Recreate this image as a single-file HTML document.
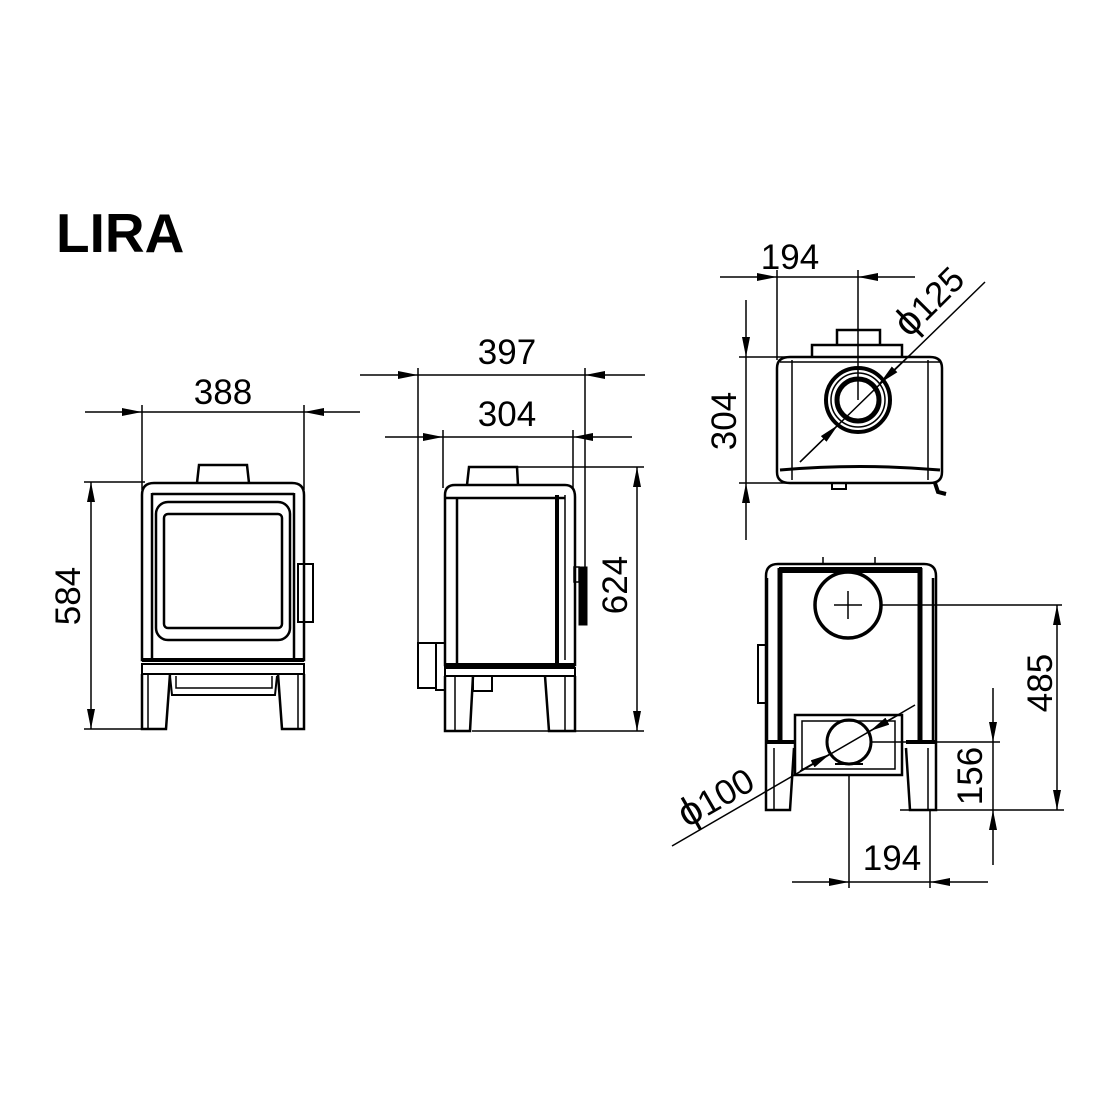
<!DOCTYPE html>
<html><head><meta charset="utf-8"><style>
html,body{margin:0;padding:0;background:#fff;}
svg{display:block}
text{font-family:"Liberation Sans","DejaVu Sans",sans-serif;fill:#000}
</style></head><body>
<svg width="1100" height="1100" viewBox="0 0 1100 1100" xmlns="http://www.w3.org/2000/svg">
<defs>
<marker id="a" viewBox="0 0 20 8" refX="20" refY="4" markerWidth="20" markerHeight="8" markerUnits="userSpaceOnUse" orient="auto"><path d="M0,0 L20,4 L0,8z" fill="#000"/></marker>
</defs>
<text x="56" y="252" font-size="55" font-weight="bold">LIRA</text>

<g stroke="#000" stroke-width="1.5" fill="none">
<line x1="85" y1="412" x2="142" y2="412" marker-end="url(#a)"/>
<line x1="360" y1="412" x2="304" y2="412" marker-end="url(#a)"/>
<line x1="142" y1="412" x2="304" y2="412"/>
<line x1="142" y1="405" x2="142" y2="490"/>
<line x1="304" y1="405" x2="304" y2="490"/>
<line x1="91" y1="605" x2="91" y2="482" marker-end="url(#a)"/>
<line x1="91" y1="605" x2="91" y2="729" marker-end="url(#a)"/>
<line x1="84" y1="482" x2="145" y2="482"/>
<line x1="84" y1="729" x2="145" y2="729"/>
</g>
<text x="223" y="404" font-size="35" text-anchor="middle">388</text>
<text transform="translate(80,596) rotate(-90)" font-size="35" text-anchor="middle">584</text>

<g stroke="#000" stroke-width="2.5" fill="none">
<path d="M197,483 L199,465 L247,465 L249,483"/>
<path d="M142,660 L142,495 Q142,483 154,483 L292,483 Q304,483 304,495 L304,660 Z"/>
<line x1="152" y1="493" x2="152" y2="660"/>
<line x1="294" y1="493" x2="294" y2="660"/>
<line x1="152" y1="494" x2="294" y2="494"/>
<rect x="156" y="502" width="134" height="138" rx="12"/>
<rect x="164" y="514" width="118" height="114" rx="4"/>
<rect x="298" y="564" width="15" height="58" stroke-width="2"/>
<line x1="142" y1="660" x2="304" y2="660" stroke-width="4"/>
<rect x="142" y="664" width="162" height="10" stroke-width="2"/>
<path d="M142,674 L142,729 L166,729 L170,674"/>
<path d="M304,674 L304,729 L282,729 L278,674"/>
<line x1="148" y1="674" x2="148" y2="729" stroke-width="1.5"/>
<line x1="298" y1="674" x2="298" y2="729" stroke-width="1.5"/>
<path d="M170,676 L172,695 L275,695 L277,676" stroke-width="2"/>
<path d="M176,676 L176,688 L272,688 L272,676" stroke-width="1.5"/>
</g>

<g stroke="#000" stroke-width="1.5" fill="none">
<line x1="360" y1="375" x2="418" y2="375" marker-end="url(#a)"/>
<line x1="645" y1="375" x2="585" y2="375" marker-end="url(#a)"/>
<line x1="418" y1="375" x2="585" y2="375"/>
<line x1="385" y1="437" x2="443" y2="437" marker-end="url(#a)"/>
<line x1="632" y1="437" x2="573" y2="437" marker-end="url(#a)"/>
<line x1="443" y1="437" x2="573" y2="437"/>
<line x1="418" y1="368" x2="418" y2="642"/>
<line x1="585" y1="368" x2="585" y2="568"/>
<line x1="443" y1="430" x2="443" y2="488"/>
<line x1="573" y1="430" x2="573" y2="488"/>
<line x1="637" y1="598" x2="637" y2="467" marker-end="url(#a)"/>
<line x1="637" y1="598" x2="637" y2="731" marker-end="url(#a)"/>
<line x1="518" y1="467" x2="644" y2="467"/>
<line x1="472" y1="731" x2="644" y2="731"/>
</g>
<text x="507" y="364" font-size="35" text-anchor="middle">397</text>
<text x="507" y="426" font-size="35" text-anchor="middle">304</text>
<text transform="translate(627,585) rotate(-90)" font-size="35" text-anchor="middle">624</text>

<g stroke="#000" stroke-width="2.5" fill="none">
<path d="M467,485 L469,467 L517,467 L518,485"/>
<path d="M445,665 L445,495 Q445,485 455,485 L565,485 Q575,485 575,497 L575,665 Z"/>
<line x1="457" y1="498" x2="457" y2="665"/>
<line x1="445" y1="498" x2="565" y2="498"/>
<line x1="557" y1="495" x2="557" y2="665" stroke-width="4"/>
<line x1="565" y1="495" x2="565" y2="660" stroke-width="1.5"/>
<rect x="418" y="643" width="18" height="45" stroke-width="2"/>
<rect x="436" y="643" width="9" height="47" stroke-width="2"/>
<rect x="574" y="567" width="5" height="15" stroke-width="1.5"/>
<rect x="579" y="567" width="8" height="58" fill="#000" stroke-width="1"/>
<line x1="445" y1="665" x2="575" y2="665" stroke-width="4"/>
<rect x="445" y="668" width="130" height="8" stroke-width="2"/>
<path d="M445,676 L445,731 L470,731 L473,676"/>
<path d="M575,676 L575,731 L549,731 L545,676"/>
<line x1="455" y1="676" x2="455" y2="731" stroke-width="1.5"/>
<line x1="565" y1="676" x2="565" y2="731" stroke-width="1.5"/>
<rect x="473" y="676" width="19" height="15" stroke-width="2"/>
</g>

<g stroke="#000" stroke-width="1.5" fill="none">
<line x1="720" y1="277" x2="777" y2="277" marker-end="url(#a)"/>
<line x1="915" y1="277" x2="858" y2="277" marker-end="url(#a)"/>
<line x1="777" y1="277" x2="858" y2="277"/>
<line x1="777" y1="270" x2="777" y2="360"/>
<line x1="858" y1="270" x2="858" y2="400"/>
<line x1="746" y1="300" x2="746" y2="357" marker-end="url(#a)"/>
<line x1="746" y1="540" x2="746" y2="483" marker-end="url(#a)"/>
<line x1="746" y1="357" x2="746" y2="483"/>
<line x1="739" y1="357" x2="790" y2="357"/>
<line x1="739" y1="483" x2="790" y2="483"/>
<line x1="800" y1="462" x2="985" y2="282"/>
<line x1="800" y1="462" x2="838" y2="425" marker-end="url(#a)"/>
<line x1="910" y1="355" x2="880" y2="383" marker-end="url(#a)"/>
</g>
<text x="790" y="269" font-size="35" text-anchor="middle">194</text>
<text transform="translate(736,421) rotate(-90)" font-size="35" text-anchor="middle">304</text>
<text transform="translate(938,310) rotate(-45)" font-size="35" text-anchor="middle"><tspan font-size="40">ϕ</tspan>125</text>

<g stroke="#000" stroke-width="2.5" fill="none">
<path d="M812,357 L812,345 L902,345 L902,357"/>
<path d="M837,345 L837,330 L880,330 L880,345"/>
<path d="M777,472 L777,368 Q777,357 790,357 L930,357 Q942,357 942,368 L942,472 Q942,483 930,483 L790,483 Q777,483 777,472 Z"/>
<line x1="792" y1="360" x2="792" y2="480" stroke-width="1.5"/>
<line x1="928" y1="360" x2="928" y2="480" stroke-width="1.5"/>
<line x1="780" y1="362" x2="940" y2="362" stroke-width="1.5"/>
<path d="M780,470 Q860,463 940,470" stroke-width="3"/>
<circle cx="858" cy="400" r="32" stroke-width="4"/>
<circle cx="858" cy="400" r="27" stroke-width="1.5"/>
<circle cx="858" cy="400" r="21" stroke-width="5"/>
<rect x="832" y="483" width="14" height="6" stroke-width="2"/>
<path d="M935,483 L938,492 L946,494" stroke-width="4"/>
</g>

<g stroke="#000" stroke-width="1.5" fill="none">
<line x1="880" y1="605" x2="1062" y2="605"/>
<line x1="1057" y1="700" x2="1057" y2="605" marker-end="url(#a)"/>
<line x1="1057" y1="700" x2="1057" y2="810" marker-end="url(#a)"/>
<line x1="900" y1="810" x2="1064" y2="810"/>
<line x1="870" y1="742" x2="1000" y2="742"/>
<line x1="993" y1="688" x2="993" y2="742" marker-end="url(#a)"/>
<line x1="993" y1="865" x2="993" y2="810" marker-end="url(#a)"/>
<line x1="993" y1="742" x2="993" y2="810"/>
<line x1="849" y1="775" x2="849" y2="888"/>
<line x1="930" y1="810" x2="930" y2="888"/>
<line x1="792" y1="882" x2="849" y2="882" marker-end="url(#a)"/>
<line x1="988" y1="882" x2="930" y2="882" marker-end="url(#a)"/>
<line x1="849" y1="882" x2="930" y2="882"/>
<line x1="672" y1="846" x2="915" y2="705"/>
<line x1="800" y1="771" x2="830" y2="754" marker-end="url(#a)"/>
<line x1="900" y1="714" x2="870" y2="731" marker-end="url(#a)"/>
<line x1="834" y1="605" x2="862" y2="605"/>
<line x1="848" y1="591" x2="848" y2="619"/>
</g>
<text transform="translate(1052,683) rotate(-90)" font-size="35" text-anchor="middle">485</text>
<text transform="translate(982,776) rotate(-90)" font-size="35" text-anchor="middle">156</text>
<text x="892" y="870" font-size="35" text-anchor="middle">194</text>
<text transform="translate(722,808) rotate(-30)" font-size="35" text-anchor="middle"><tspan font-size="40">ϕ</tspan>100</text>

<g stroke="#000" stroke-width="2.5" fill="none">
<line x1="823" y1="557" x2="823" y2="563" stroke-width="1.5"/>
<line x1="875" y1="557" x2="875" y2="563" stroke-width="1.5"/>
<path d="M766,742 L766,576 Q766,564 778,564 L924,564 Q936,564 936,576 L936,742"/>
<line x1="779" y1="570" x2="922" y2="570" stroke-width="6"/>
<line x1="780" y1="568" x2="780" y2="742" stroke-width="5"/>
<line x1="920" y1="568" x2="920" y2="742" stroke-width="5"/>
<line x1="767" y1="578" x2="767" y2="742"/>
<line x1="933" y1="578" x2="933" y2="742"/>
<circle cx="848" cy="605" r="33" stroke-width="3.5"/>
<rect x="758" y="645" width="8" height="58" stroke-width="2"/>
<line x1="766" y1="742" x2="795" y2="742" stroke-width="4"/>
<line x1="906" y1="742" x2="936" y2="742" stroke-width="4"/>
<path d="M766,742 L766,810 L790,810 L794,748"/>
<path d="M936,742 L936,810 L910,810 L906,748"/>
<line x1="774" y1="748" x2="774" y2="810" stroke-width="1.5"/>
<line x1="928" y1="748" x2="928" y2="810" stroke-width="1.5"/>
<rect x="795" y="715" width="107" height="60"/>
<rect x="802" y="721" width="93" height="48" stroke-width="1.5"/>
<circle cx="849" cy="742" r="22" stroke-width="3"/>
<line x1="835" y1="764" x2="863" y2="764" stroke-width="2"/>
</g>
</svg>
</body></html>
